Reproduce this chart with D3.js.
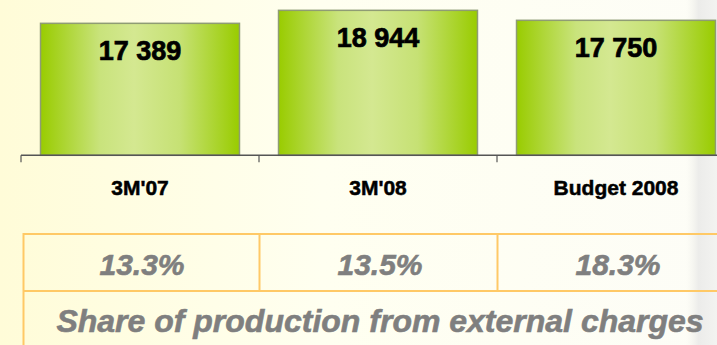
<!DOCTYPE html>
<html>
<head>
<meta charset="utf-8">
<script src="https://cdn.jsdelivr.net/npm/d3@7"></script>
<style>
html,body{margin:0;padding:0;background:#fffff0;}
svg{display:block;font-family:"Liberation Sans",Arial,sans-serif;}
</style>
</head>
<body>
<svg id="chart" width="717" height="345"></svg>
<script>
const categories = ["3M'07", "3M'08", "Budget 2008"];
const values = [17389, 18944, 17750];
const valueLabels = ["17 389", "18 944", "17 750"];
const shares = ["13.3%", "13.5%", "18.3%"];
const tableTitle = "Share of production from external charges";

const W = 717, H = 345;
const svg = d3.select("#chart");
const defs = svg.append("defs");

// background
const bg = defs.append("linearGradient").attr("id","bg").attr("x1","0").attr("x2","1").attr("y1","0").attr("y2","0");
bg.append("stop").attr("offset","0").attr("stop-color","#fffcd8");
bg.append("stop").attr("offset","0.45").attr("stop-color","#fffff0");
bg.append("stop").attr("offset","1").attr("stop-color","#fdfdf7");
svg.append("rect").attr("width",W).attr("height",H).attr("fill","url(#bg)");
const sh = defs.append("linearGradient").attr("id","shade").attr("x1","0").attr("x2","1").attr("y1","0").attr("y2","0");
sh.append("stop").attr("offset","0").attr("stop-color","#f4f4ee").attr("stop-opacity","0");
sh.append("stop").attr("offset","0.4").attr("stop-color","#ececea").attr("stop-opacity","1");
sh.append("stop").attr("offset","1").attr("stop-color","#f3f3f1").attr("stop-opacity","1");
svg.append("rect").attr("x",686).attr("y",0).attr("width",31).attr("height",H).attr("fill","url(#shade)");

// bar gradient
const bgGrad = defs.append("linearGradient").attr("id","barg").attr("x1","0").attr("x2","1").attr("y1","0").attr("y2","0");
[[0,"#99cc00"],[0.3,"#c9e37c"],[0.47,"#d4e891"],[0.7,"#c6e174"],[1,"#99cc00"]].forEach(s=>
  bgGrad.append("stop").attr("offset",s[0]).attr("stop-color",s[1]));

const x = d3.scaleBand().domain(categories).range([21, 735]).paddingInner(0.164).paddingOuter(0.082);
const y = d3.scaleLinear().domain([1600, 20180]).range([155.3, 0]);

// bars
svg.selectAll("rect.bar").data(values).join("rect").attr("class","bar")
  .attr("x",(d,i)=>x(categories[i]))
  .attr("y",d=>y(d))
  .attr("width",x.bandwidth())
  .attr("height",d=>y.range()[0]-y(d))
  .attr("fill","url(#barg)")
  .attr("stroke","#8f9c74").attr("stroke-width",1.5);

// value labels
svg.selectAll("text.val").data(values).join("text").attr("class","val")
  .attr("x",(d,i)=>x(categories[i])+x.bandwidth()/2)
  .attr("y",d=>y(d)+36.5)
  .attr("text-anchor","middle").attr("font-size",27).attr("font-weight","bold").attr("fill","#000")
  .attr("stroke","#000").attr("stroke-width",0.7)
  .text((d,i)=>valueLabels[i]);

// axis
const axisG = svg.append("g").attr("transform","translate(0,155.3)");
axisG.append("line").attr("x1",21).attr("x2",W).attr("y1",0).attr("y2",0).attr("stroke","#555").attr("stroke-width",1.5);
const tickXs = categories.map(c=>x(c) - x.step()*x.paddingInner()/2);
axisG.selectAll("line.tick").data(tickXs).join("line").attr("class","tick")
  .attr("x1",d=>d).attr("x2",d=>d).attr("y1",0).attr("y2",7).attr("stroke","#555").attr("stroke-width",1.2);
svg.selectAll("text.cat").data(categories).join("text").attr("class","cat")
  .attr("x",d=>x(d)+x.bandwidth()/2)
  .attr("y",195)
  .attr("text-anchor","middle").attr("font-size",21).attr("font-weight","bold").attr("fill","#000")
  .attr("stroke","#000").attr("stroke-width",0.5)
  .text(d=>d);

// table
const tc = "#ffc966";
const tg = svg.append("g");
tg.append("line").attr("x1",23.5).attr("x2",W).attr("y1",234).attr("y2",234).attr("stroke",tc).attr("stroke-width",2);
tg.append("line").attr("x1",23.5).attr("x2",W).attr("y1",291).attr("y2",291).attr("stroke",tc).attr("stroke-width",2);
tg.append("line").attr("x1",23.5).attr("x2",23.5).attr("y1",233).attr("y2",H).attr("stroke",tc).attr("stroke-width",2);
tg.selectAll("line.div").data(tickXs.slice(1)).join("line").attr("class","div")
  .attr("x1",d=>d+0.5).attr("x2",d=>d+0.5).attr("y1",234).attr("y2",291).attr("stroke",tc).attr("stroke-width",2);
tg.selectAll("text.pct").data(shares).join("text").attr("class","pct")
  .attr("x",(d,i)=>x(categories[i])+x.bandwidth()/2+2)
  .attr("y",275)
  .attr("text-anchor","middle").attr("font-size",30).attr("font-weight","bold").attr("font-style","italic").attr("fill","#7f7f7f")
  .attr("stroke","#7f7f7f").attr("stroke-width",0.6)
  .text(d=>d);
tg.append("text").attr("x",380).attr("y",331.5)
  .attr("text-anchor","middle").attr("font-size",32).attr("font-weight","bold").attr("font-style","italic").attr("fill","#7f7f7f")
  .attr("stroke","#7f7f7f").attr("stroke-width",0.6)
  .text(tableTitle);
</script>
</body>
</html>
